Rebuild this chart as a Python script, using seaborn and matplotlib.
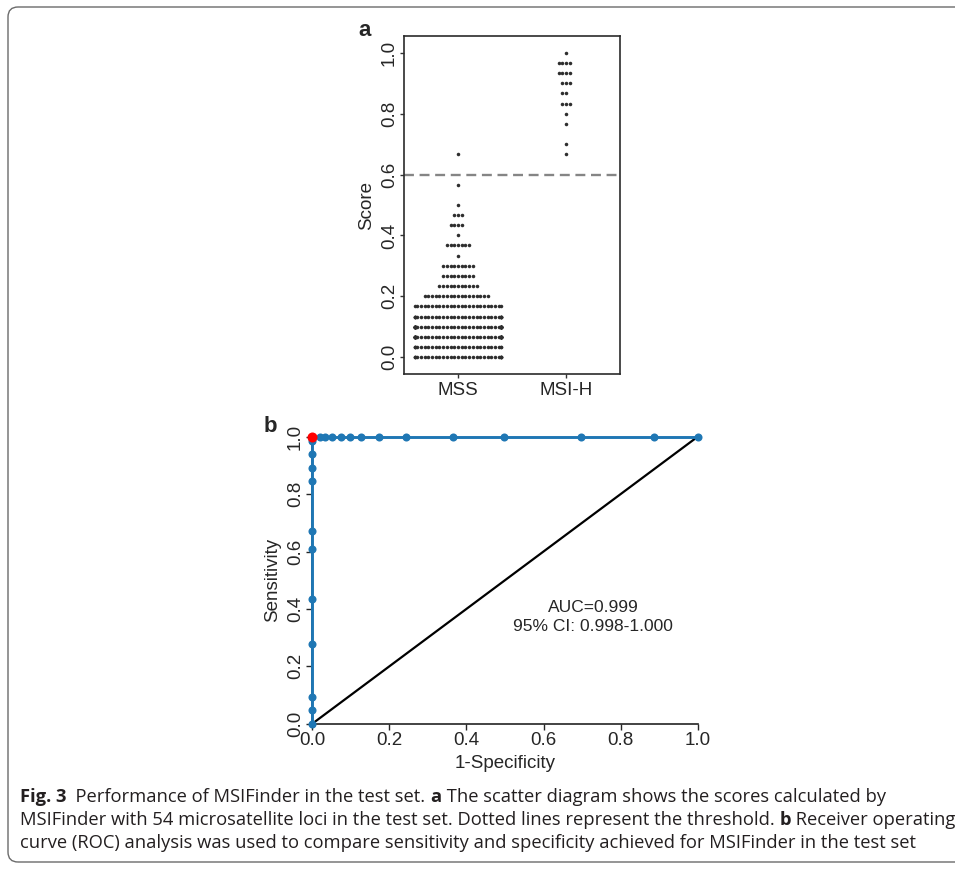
import warnings
import numpy as np
import pandas as pd
import matplotlib
matplotlib.use("Agg")
import matplotlib.pyplot as plt
import seaborn as sns
from matplotlib.patches import FancyBboxPatch
from matplotlib.transforms import IdentityTransform

warnings.filterwarnings("ignore")

# ---- panel a: MSIFinder scores in the test set ----
groups = ["MSS", "MSI-H"]
mss_levels = [0.000, 0.033, 0.067, 0.100, 0.133, 0.167, 0.200, 0.233, 0.267,
              0.300, 0.333, 0.367, 0.400, 0.433, 0.467, 0.500, 0.567, 0.667]
mss_counts = [30, 28, 47, 49, 32, 25, 18, 11, 9, 9, 1, 7, 1, 4, 3, 1, 1, 1]
msih_levels = [0.667, 0.700, 0.767, 0.800, 0.833, 0.867, 0.900, 0.933, 0.967, 1.000]
msih_counts = [1, 1, 1, 1, 3, 2, 3, 4, 4, 1]
threshold = 0.6
score_ticks = [0.0, 0.2, 0.4, 0.6, 0.8, 1.0]

# ---- panel b: ROC curve ----
roc_fpr = [0.0, 0.0, 0.0, 0.0, 0.0, 0.0, 0.0, 0.0, 0.0, 0.0, 0.0, 0.0,
           0.020, 0.033, 0.050, 0.075, 0.099, 0.127, 0.174, 0.243, 0.366,
           0.498, 0.697, 0.887, 1.0]
roc_tpr = [0.0, 0.046, 0.094, 0.278, 0.436, 0.609, 0.671, 0.845, 0.891,
           0.940, 0.984, 1.0, 1.0, 1.0, 1.0, 1.0, 1.0, 1.0, 1.0, 1.0, 1.0,
           1.0, 1.0, 1.0, 1.0]
best_point = (0.0, 1.0)
auc_lines = ["AUC=0.999", "95% CI: 0.998-1.000"]
roc_ticks = [0.0, 0.2, 0.4, 0.6, 0.8, 1.0]

caption = [
    [("Fig. 3", True), ("  Performance of MSIFinder in the test set. ", False), ("a", True),
     (" The scatter diagram shows the scores calculated by", False)],
    [("MSIFinder with 54 microsatellite loci in the test set. Dotted lines represent the threshold. ", False),
     ("b", True), (" Receiver operating", False)],
    [("curve (ROC) analysis was used to compare sensitivity and specificity achieved for MSIFinder in the test set", False)],
]

sns.set_style("ticks")
plt.rcParams["font.family"] = ["Liberation Sans", "DejaVu Sans"]
plt.rcParams["axes.linewidth"] = 1.2

W, H = 955, 869
fig = plt.figure(figsize=(W / 100, H / 100), dpi=100)


def px_axes(left, top, right, bottom):
    return fig.add_axes([left / W, 1 - bottom / H, (right - left) / W, (bottom - top) / H])


# ---------------- panel a ----------------
axa = px_axes(404, 36, 620, 374)
scores = pd.DataFrame({
    "group": ["MSS"] * sum(mss_counts) + ["MSI-H"] * sum(msih_counts),
    "score": list(np.repeat(mss_levels, mss_counts)) + list(np.repeat(msih_levels, msih_counts)),
})
sns.swarmplot(data=scores, x="group", y="score", order=groups, color="#2e2e2e",
              size=2.55, linewidth=0, ax=axa)
axa.axhline(threshold, color="#858585", lw=1.7, dashes=(4.2, 2.4), zorder=1)
axa.set_xlim(-0.5, 1.5)
axa.set_ylim(-0.055, 1.055)
axa.set_yticks(score_ticks)
axa.set_yticklabels([f"{t:.1f}" for t in score_ticks], rotation=90, va="center")
axa.set_xlabel("")
axa.set_ylabel("Score", fontsize=13.5, labelpad=4)
axa.tick_params(axis="both", labelsize=13.5, length=3, width=1, pad=1.5, color="#333333")
axa.tick_params(axis="x", pad=3)
for s in axa.spines.values():
    s.set_visible(True)
    s.set_color("#2b2b2b")
fig.text(365 / W, 1 - 31 / H, "a", fontsize=16, fontweight="bold", ha="center", va="center")

# ---------------- panel b ----------------
axb = px_axes(312.3, 436.7, 697.7, 723.7)
roc = pd.DataFrame({"fpr": roc_fpr, "tpr": roc_tpr})
sns.lineplot(x=[0, 1], y=[0, 1], color="black", lw=1.6, estimator=None, ax=axb, zorder=3)
sns.lineplot(data=roc, x="fpr", y="tpr", estimator=None, sort=False, color="#1f77b4",
             lw=2.1, marker="o", markersize=5.8, markeredgewidth=0, ax=axb, zorder=4)
sns.scatterplot(x=[best_point[0]], y=[best_point[1]], color="red", s=52, linewidth=0,
                zorder=6, ax=axb)
for art in axb.lines + axb.collections:
    art.set_clip_on(False)
axb.set_xlim(0, 1)
axb.set_ylim(0, 1)
axb.set_xticks(roc_ticks)
axb.set_xticklabels([f"{t:.1f}" for t in roc_ticks])
axb.set_yticks(roc_ticks)
axb.set_yticklabels([f"{t:.1f}" for t in roc_ticks], rotation=90, va="center")
axb.set_xlabel("1-Specificity", fontsize=13.5, labelpad=4)
axb.set_ylabel("Sensitivity", fontsize=13.5, labelpad=4)
axb.tick_params(axis="both", labelsize=13.5, length=4, width=1, pad=2)
sns.despine(ax=axb)
for s in ("left", "bottom"):
    axb.spines[s].set_color("#222222")
axb.text(0.728, 0.405, auc_lines[0], transform=axb.transAxes, fontsize=12.5,
         ha="center", va="center")
axb.text(0.728, 0.338, auc_lines[1], transform=axb.transAxes, fontsize=12.5,
         ha="center", va="center")
fig.text(270 / W, 1 - 426 / H, "b", fontsize=16, fontweight="bold", ha="center", va="center")

# ---------------- caption and frame ----------------
frame = FancyBboxPatch((8, H - 862), 990, 855, boxstyle="round,pad=0,rounding_size=10",
                       transform=IdentityTransform(), fill=False, ec="#6b6b6b", lw=1.0)
fig.patches.append(frame)

renderer = fig.canvas.get_renderer()
cap_family = ["Liberation Sans Narrow", "Open Sans", "DejaVu Sans"]
probe = fig.text(0, 0, "".join(t for t, _ in caption[2]), fontsize=12, family=cap_family)
probe_w = probe.get_window_extent(renderer).width
probe.remove()
cap_size = 12 * 893 / probe_w

baselines = [802, 825, 848]
for segs, yb in zip(caption, baselines):
    x = 20.0
    for txt, bold in segs:
        t = fig.text(x / W, 1 - yb / H, txt, fontsize=cap_size, family=cap_family,
                     fontweight="bold" if bold else "normal", color="#231f20",
                     ha="left", va="baseline")
        x += t.get_window_extent(renderer).width

fig.savefig("out.png", dpi=100)
